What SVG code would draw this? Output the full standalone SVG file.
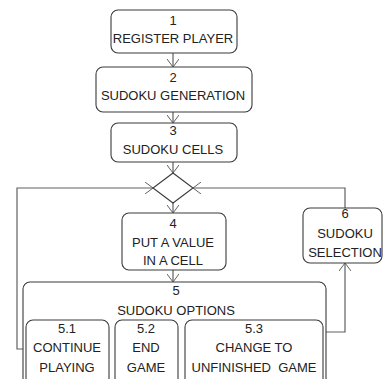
<svg xmlns="http://www.w3.org/2000/svg" width="383" height="379" viewBox="0 0 383 379">
<style>
.box{fill:#fff;stroke:#3a3a3a;stroke-width:1.1}
.t{font-family:"Liberation Sans",Arial,sans-serif;font-size:13px;fill:#222;text-anchor:middle;white-space:pre}
.c{fill:none;stroke:#606060;stroke-width:1.2}
</style>
<defs>
<marker id="ah" viewBox="0 0 8 12" refX="8" refY="6" markerWidth="8" markerHeight="12" markerUnits="userSpaceOnUse" orient="auto">
<path d="M0,0 L8,6 L0,12" fill="none" stroke="#606060" stroke-width="1"/>
</marker>
</defs>
<rect width="383" height="379" fill="#fff"/>
<g id="connectors">
<path class="c" d="M173,53 V67" marker-end="url(#ah)"/>
<path class="c" d="M173,112 V123" marker-end="url(#ah)"/>
<path class="c" d="M173,162 V173" marker-end="url(#ah)"/>
<path class="c" d="M173,203 V213" marker-end="url(#ah)"/>
<path class="c" d="M173,270 V282" marker-end="url(#ah)"/>
<path class="c" d="M25,349 H17 V188 H153" marker-end="url(#ah)"/>
<path class="c" d="M345,208 V188 H193" marker-end="url(#ah)"/>
<path class="c" d="M326,332 H345 V263" marker-end="url(#ah)"/>
</g>
<g id="n1">
<rect class="box" x="111" y="10" width="126" height="43" rx="7"/>
<text class="t" x="173" y="25">1</text>
<text class="t" x="173" y="43">REGISTER PLAYER</text>
</g>
<g id="n2">
<rect class="box" x="96" y="67" width="156" height="45" rx="7"/>
<text class="t" x="173" y="82">2</text>
<text class="t" x="173" y="100">SUDOKU GENERATION</text>
</g>
<g id="n3">
<rect class="box" x="111" y="123" width="126" height="39" rx="7"/>
<text class="t" x="173" y="135">3</text>
<text class="t" x="173" y="154">SUDOKU CELLS</text>
</g>
<g id="decision">
<polygon class="box" points="173,173 193,188 173,203 153,188"/>
</g>
<g id="n4">
<rect class="box" x="122" y="213" width="104" height="57" rx="7"/>
<text class="t" x="173" y="228">4</text>
<text class="t" x="173" y="247">PUT A VALUE</text>
<text class="t" x="173" y="265">IN A CELL</text>
</g>
<g id="n6">
<rect class="box" x="303" y="208" width="79" height="55" rx="7"/>
<text class="t" x="345" y="218">6</text>
<text class="t" x="345" y="238">SUDOKU</text>
<text class="t" x="345" y="257">SELECTION</text>
</g>
<g id="n5">
<rect class="box" x="23" y="282" width="303" height="110" rx="7"/>
<text class="t" x="176" y="295">5</text>
<text class="t" x="176" y="315">SUDOKU OPTIONS</text>
</g>
<g id="n5_1">
<rect class="box" x="26" y="320" width="83" height="70" rx="7"/>
<text class="t" x="67" y="333">5.1</text>
<text class="t" x="67" y="352">CONTINUE</text>
<text class="t" x="67" y="372">PLAYING</text>
</g>
<g id="n5_2">
<rect class="box" x="115" y="320" width="63" height="70" rx="7"/>
<text class="t" x="146" y="333">5.2</text>
<text class="t" x="146" y="352">END</text>
<text class="t" x="146" y="372">GAME</text>
</g>
<g id="n5_3">
<rect class="box" x="185" y="320" width="138" height="70" rx="7"/>
<text class="t" x="254" y="333">5.3</text>
<text class="t" x="254" y="352">CHANGE TO</text>
<text class="t" x="254" y="372">UNFINISHED  GAME</text>
</g>
</svg>
